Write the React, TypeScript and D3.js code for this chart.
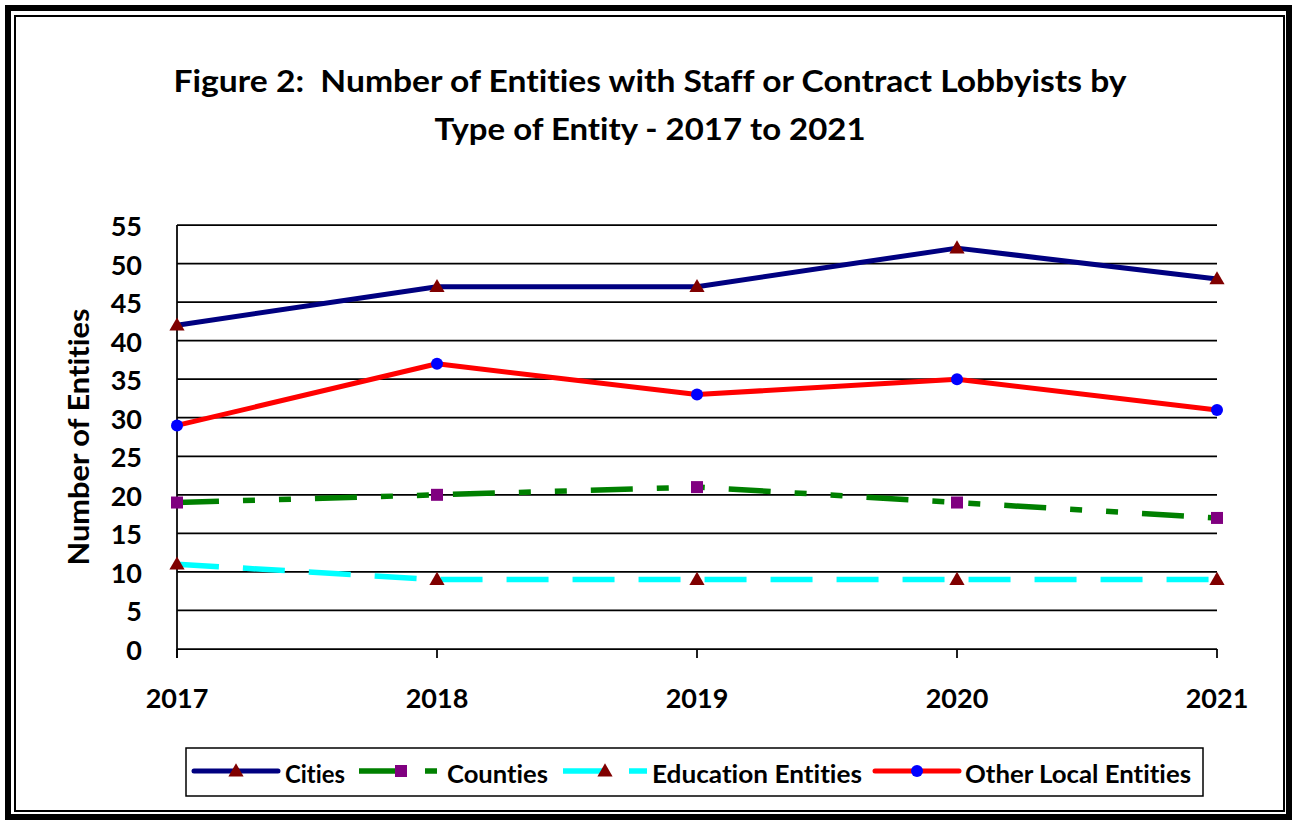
import React from 'react';
import * as d3 from 'd3';

const years = ['2017', '2018', '2019', '2020', '2021'];
const cities = [42, 47, 47, 52, 48];
const counties = [19, 20, 21, 19, 17];
const education = [11, 9, 9, 9, 9];
const otherLocal = [29, 37, 33, 35, 31];
const yTicks = [0, 5, 10, 15, 20, 25, 30, 35, 40, 45, 50, 55];
const titleLines = ['Figure 2:  Number of Entities with Staff or Contract Lobbyists by', 'Type of Entity - 2017 to 2021'];
const yAxisTitle = 'Number of Entities';

type Series = {
  name: string;
  values: number[];
  color: string;
  width: number;
  dash: string | null;
  marker: 'triangle' | 'square' | 'circle';
  markerColor: string;
  legendX: number;
  textX: number;
  textW: number;
};

const series: Series[] = [
  { name: 'Cities', values: cities, color: '#000080', width: 5, dash: null, marker: 'triangle', markerColor: '#800000', legendX: 194, textX: 285, textW: 60 },
  { name: 'Counties', values: counties, color: '#008000', width: 5.5, dash: '42 24 12 24 12 24', marker: 'square', markerColor: '#800080', legendX: 359, textX: 447, textW: 101 },
  { name: 'Education Entities', values: education, color: '#00FFFF', width: 5.5, dash: '42 24', marker: 'triangle', markerColor: '#800000', legendX: 563, textX: 652, textW: 210 },
  { name: 'Other Local Entities', values: otherLocal, color: '#FF0000', width: 5, dash: null, marker: 'circle', markerColor: '#0000FF', legendX: 875, textX: 965, textW: 226 },
];

const W = 1293;
const H = 821;
const FONT = 'Lato, "Open Sans", sans-serif';
const txtStyle: React.CSSProperties = {
  fontVariantLigatures: 'none',
  fontFeatureSettings: '"liga" 0, "clig" 0, "dlig" 0, "calt" 0',
  whiteSpace: 'pre',
};

function Marker({ type, x, y, color }: { type: string; x: number; y: number; color: string }) {
  if (type === 'circle') return <circle cx={x} cy={y} r={6} fill={color} />;
  if (type === 'square') return <rect x={x - 6} y={y - 6} width={12} height={12} fill={color} />;
  const sym = d3.symbol().type(d3.symbolTriangle).size(100)();
  return <path d={sym || ''} transform={`translate(${x},${y + 1})`} fill={color} />;
}

export default function App() {
  const x = d3.scalePoint<string>().domain(years).range([177, 1217]);
  const y = d3.scaleLinear().domain([0, 55]).range([649, 225]);
  const line = d3
    .line<number>()
    .x((_, i) => x(years[i]) as number)
    .y((d) => y(d));

  return (
    <svg width={W} height={H} style={{ position: 'absolute', left: 0, top: 0, background: '#fff' }} fontFamily={FONT}>
      <rect x={0} y={0} width={W} height={H} fill="#fff" />
      {/* frame */}
      <rect x={8} y={8} width={1281} height={809} fill="none" stroke="#000" strokeWidth={6} />
      <rect x={15} y={16} width={1269} height={795} fill="none" stroke="#000" strokeWidth={2} />

      {/* title */}
      <text x={650} y={92} textAnchor="middle" fontSize={31} fontWeight={700} textLength={953} lengthAdjust="spacingAndGlyphs" style={txtStyle}>
        {titleLines[0]}
      </text>
      <text x={650} y={140} textAnchor="middle" fontSize={31} fontWeight={700} textLength={431} lengthAdjust="spacingAndGlyphs" style={txtStyle}>
        {titleLines[1]}
      </text>

      {/* gridlines */}
      {yTicks.map((t) => (
        <line key={t} x1={177} x2={1217} y1={y(t)} y2={y(t)} stroke="#000" strokeWidth={1.75} />
      ))}
      {/* y axis line */}
      <line x1={177} x2={177} y1={y(55)} y2={658} stroke="#000" strokeWidth={1.75} />
      {/* x ticks */}
      {years.map((yr) => (
        <line key={yr} x1={x(yr)} x2={x(yr)} y1={y(0)} y2={658} stroke="#000" strokeWidth={1.75} />
      ))}

      {/* y tick labels */}
      {yTicks.map((t) => (
        <text key={t} x={142} y={y(t) + 11} textAnchor="end" fontSize={27} fontWeight={700} style={txtStyle}>
          {t}
        </text>
      ))}
      {/* x tick labels */}
      {years.map((yr) => (
        <text key={yr} x={x(yr)} y={708} textAnchor="middle" fontSize={27} fontWeight={700} style={txtStyle}>
          {yr}
        </text>
      ))}
      {/* y axis title */}
      <text transform="translate(89,437) rotate(-90)" textAnchor="middle" fontSize={29} fontWeight={700} textLength={257} lengthAdjust="spacingAndGlyphs" style={txtStyle}>
        {yAxisTitle}
      </text>

      {/* series lines */}
      {series.map((s) => (
        <path
          key={s.name}
          d={line(s.values) || ''}
          fill="none"
          stroke={s.color}
          strokeWidth={s.width}
          strokeDasharray={s.dash || undefined}
          strokeLinejoin="round"
          strokeLinecap={s.dash ? 'butt' : 'round'}
        />
      ))}
      {/* markers */}
      {series.map((s) =>
        s.values.map((v, i) => (
          <Marker key={s.name + i} type={s.marker} x={x(years[i]) as number} y={y(v)} color={s.markerColor} />
        ))
      )}

      {/* legend */}
      <rect x={186} y={748} width={1017} height={48} fill="#fff" stroke="#000" strokeWidth={1.5} />
      {series.map((s) => (
        <g key={s.name}>
          <line
            x1={s.legendX}
            x2={s.legendX + 84}
            y1={771}
            y2={771}
            stroke={s.color}
            strokeWidth={s.width}
            strokeDasharray={s.dash || undefined}
            strokeLinecap={s.dash ? 'butt' : 'round'}
          />
          <Marker type={s.marker} x={s.legendX + 42} y={771} color={s.markerColor} />
          <text x={s.textX} y={783} fontSize={25} fontWeight={700} textLength={s.textW} lengthAdjust="spacingAndGlyphs" style={txtStyle}>
            {s.name}
          </text>
        </g>
      ))}
    </svg>
  );
}
